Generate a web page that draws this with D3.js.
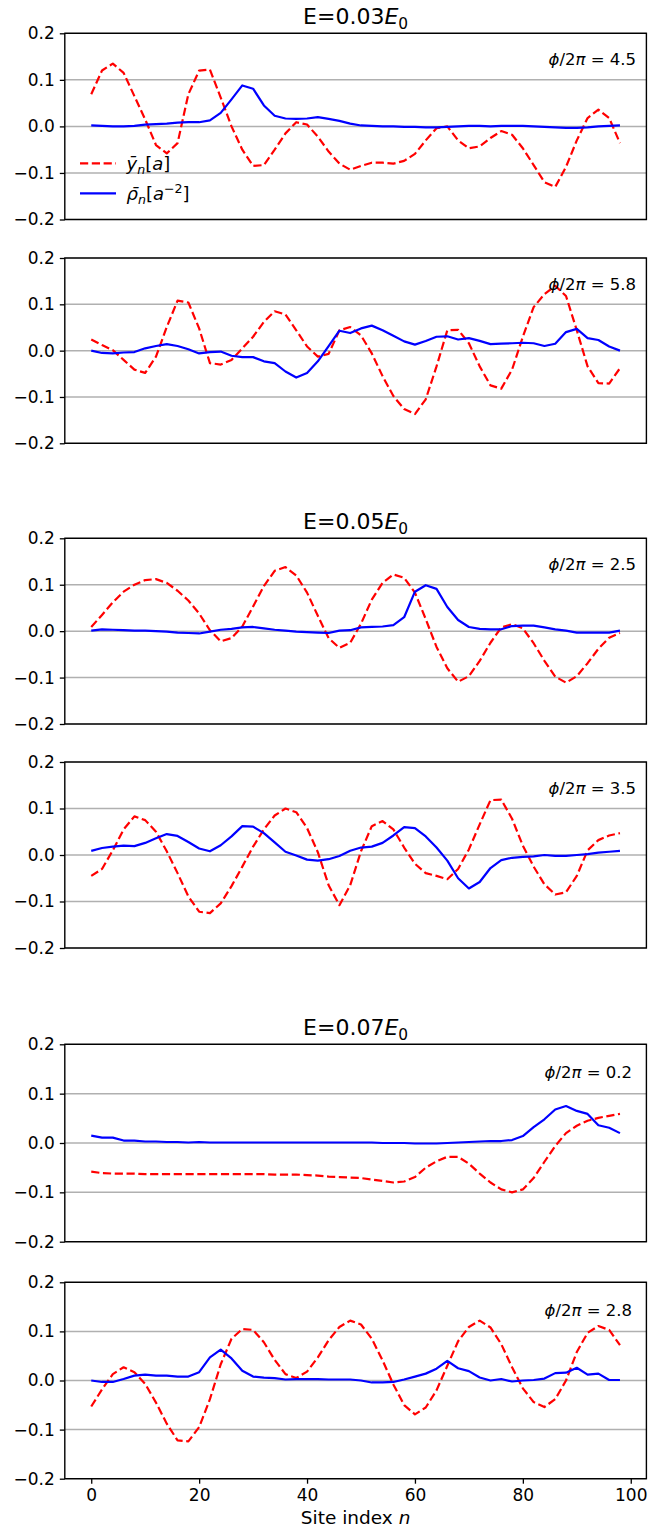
<!DOCTYPE html>
<html>
<head>
<meta charset="utf-8">
<script src="https://cdn.jsdelivr.net/npm/d3@7"></script>
<style>
  html, body { margin: 0; padding: 0; background: #fff; }
  svg { display: block; font-family: "DejaVu Sans", sans-serif; }
</style>
</head>
<body>
<svg id="chart" width="648" height="1533"></svg>
<script>
// Site indices along the chain (every second site is sampled)
const sites = d3.range(0, 99, 2);

// Tick values
const yTicks = [-0.2, -0.1, 0.0, 0.1, 0.2];
const xTicks = [0, 20, 40, 60, 80, 100];

// E = 0.03 E0, phi/2pi = 4.5
const yE03a = [0.069, 0.12, 0.135, 0.115, 0.065, 0.015, -0.04, -0.058, -0.036, 0.069,
  0.12, 0.122, 0.062, 0.0, -0.05, -0.085, -0.083, -0.05, -0.015, 0.009,
  0.004, -0.022, -0.054, -0.08, -0.093, -0.085, -0.078, -0.078, -0.08, -0.074,
  -0.059, -0.03, -0.004, 0.0, -0.03, -0.047, -0.043, -0.025, -0.01, -0.018,
  -0.047, -0.083, -0.12, -0.13, -0.087, -0.03, 0.018, 0.036, 0.018, -0.036];
const rhoE03a = [0.002, 0.001, 0.0, 0.0, 0.001, 0.004, 0.005, 0.006, 0.008, 0.009,
  0.009, 0.013, 0.029, 0.058, 0.088, 0.081, 0.045, 0.023, 0.017, 0.016,
  0.017, 0.02, 0.016, 0.012, 0.006, 0.002, 0.001, 0.0, 0.0, -0.001,
  -0.001, -0.002, -0.002, -0.001, 0.0, 0.001, 0.001, 0.0, 0.001, 0.001,
  0.001, 0.0, -0.001, -0.002, -0.003, -0.003, -0.002, 0.0, 0.001, 0.002];

// E = 0.03 E0, phi/2pi = 5.8
const yE03b = [0.024, 0.012, 0.001, -0.02, -0.041, -0.048, -0.013, 0.051, 0.108, 0.104,
  0.048, -0.027, -0.03, -0.02, 0.005, 0.03, 0.062, 0.085, 0.078, 0.044,
  0.009, -0.013, -0.007, 0.044, 0.051, 0.033, -0.006, -0.055, -0.098, -0.126,
  -0.137, -0.105, -0.034, 0.044, 0.045, 0.016, -0.034, -0.075, -0.082, -0.041,
  0.03, 0.094, 0.122, 0.14, 0.118, 0.044, -0.034, -0.07, -0.071, -0.038];
const rhoE03b = [0.0, -0.005, -0.006, -0.004, -0.003, 0.005, 0.01, 0.014, 0.01, 0.003,
  -0.006, -0.003, -0.002, -0.011, -0.014, -0.014, -0.023, -0.027, -0.045, -0.058,
  -0.048, -0.023, 0.01, 0.043, 0.038, 0.048, 0.054, 0.044, 0.032, 0.02,
  0.013, 0.021, 0.03, 0.031, 0.024, 0.027, 0.021, 0.014, 0.015, 0.016,
  0.017, 0.016, 0.01, 0.015, 0.04, 0.047, 0.027, 0.023, 0.009, 0.0];

// E = 0.05 E0, phi/2pi = 2.5
const yE05a = [0.009, 0.035, 0.062, 0.085, 0.1, 0.11, 0.112, 0.104, 0.087, 0.066,
  0.038, 0.002, -0.022, -0.015, 0.01, 0.053, 0.097, 0.13, 0.138, 0.12,
  0.083, 0.033, -0.015, -0.036, -0.025, 0.016, 0.068, 0.104, 0.122, 0.115,
  0.083, 0.026, -0.034, -0.08, -0.109, -0.097, -0.064, -0.025, 0.008, 0.015,
  0.006, -0.026, -0.064, -0.098, -0.111, -0.097, -0.069, -0.038, -0.014, -0.004];
const rhoE05a = [0.001, 0.004, 0.003, 0.002, 0.001, 0.001, 0.0, -0.001, -0.003, -0.004,
  -0.005, -0.001, 0.003, 0.005, 0.008, 0.009, 0.006, 0.003, 0.001, -0.001,
  -0.002, -0.003, -0.004, 0.001, 0.002, 0.008, 0.009, 0.01, 0.013, 0.03,
  0.085, 0.099, 0.091, 0.052, 0.024, 0.009, 0.005, 0.004, 0.004, 0.011,
  0.012, 0.012, 0.008, 0.004, 0.001, -0.003, -0.003, -0.003, -0.003, 0.001];

// E = 0.05 E0, phi/2pi = 3.5
const yE05b = [-0.045, -0.03, 0.01, 0.055, 0.083, 0.075, 0.05, 0.008, -0.039, -0.089,
  -0.122, -0.125, -0.104, -0.067, -0.025, 0.018, 0.055, 0.085, 0.1, 0.092,
  0.058, 0.006, -0.065, -0.108, -0.065, 0.008, 0.062, 0.073, 0.055, 0.016,
  -0.019, -0.039, -0.045, -0.052, -0.03, 0.012, 0.066, 0.118, 0.119, 0.078,
  0.02, -0.025, -0.063, -0.085, -0.08, -0.045, 0.01, 0.032, 0.042, 0.047];
const rhoE05b = [0.009, 0.015, 0.018, 0.02, 0.019, 0.026, 0.036, 0.045, 0.041, 0.028,
  0.014, 0.008, 0.021, 0.04, 0.062, 0.061, 0.047, 0.027, 0.007, -0.001,
  -0.01, -0.012, -0.009, -0.002, 0.009, 0.016, 0.018, 0.026, 0.042, 0.06,
  0.058, 0.04, 0.016, -0.012, -0.05, -0.072, -0.058, -0.028, -0.011, -0.006,
  -0.004, -0.003, 0.0, -0.002, -0.002, 0.0, 0.002, 0.005, 0.007, 0.009];

// E = 0.07 E0, phi/2pi = 0.2
const yE07a = [-0.058, -0.061, -0.062, -0.062, -0.062, -0.063, -0.063, -0.063, -0.063, -0.063,
  -0.063, -0.063, -0.063, -0.063, -0.063, -0.063, -0.063, -0.064, -0.064, -0.064,
  -0.065, -0.066, -0.068, -0.069, -0.07, -0.071, -0.074, -0.077, -0.08, -0.078,
  -0.069, -0.05, -0.037, -0.028, -0.028, -0.042, -0.062, -0.08, -0.094, -0.1,
  -0.094, -0.071, -0.038, -0.006, 0.02, 0.035, 0.045, 0.051, 0.055, 0.059];
const rhoE07a = [0.015, 0.011, 0.011, 0.005, 0.005, 0.003, 0.003, 0.002, 0.002, 0.001,
  0.002, 0.001, 0.001, 0.001, 0.001, 0.001, 0.001, 0.001, 0.001, 0.001,
  0.001, 0.001, 0.001, 0.001, 0.001, 0.001, 0.001, 0.0, 0.0, 0.0,
  -0.001, -0.001, -0.001, 0.0, 0.001, 0.002, 0.003, 0.004, 0.004, 0.006,
  0.014, 0.032, 0.048, 0.068, 0.075, 0.065, 0.059, 0.036, 0.031, 0.02];

// E = 0.07 E0, phi/2pi = 2.8
const yE07b = [-0.053, -0.018, 0.013, 0.027, 0.017, -0.007, -0.045, -0.088, -0.122, -0.124,
  -0.095, -0.038, 0.033, 0.085, 0.105, 0.103, 0.078, 0.042, 0.013, 0.005,
  0.018, 0.047, 0.082, 0.109, 0.122, 0.114, 0.085, 0.041, -0.008, -0.05,
  -0.069, -0.055, -0.02, 0.03, 0.08, 0.109, 0.122, 0.108, 0.074, 0.027,
  -0.016, -0.044, -0.054, -0.038, 0.0, 0.058, 0.097, 0.111, 0.103, 0.072];
const rhoE07b = [0.0, -0.003, -0.003, 0.003, 0.01, 0.012, 0.01, 0.01, 0.008, 0.008,
  0.017, 0.047, 0.063, 0.045, 0.02, 0.008, 0.006, 0.005, 0.002, 0.003,
  0.003, 0.003, 0.002, 0.002, 0.002, 0.0, -0.004, -0.004, -0.003, 0.002,
  0.008, 0.014, 0.024, 0.04, 0.025, 0.019, 0.006, 0.0, 0.003, -0.002,
  0.0, 0.001, 0.004, 0.015, 0.016, 0.026, 0.012, 0.014, 0.001, 0.001];

// Field strengths (titles) and flux values (annotations)
const fields = ["0.03", "0.05", "0.07"];
const fluxes = ["4.5", "5.8", "2.5", "3.5", "0.2", "2.8"];
const ySeries = [yE03a, yE03b, yE05a, yE05b, yE07a, yE07b];
const rhoSeries = [rhoE03a, rhoE03b, rhoE05a, rhoE05b, rhoE07a, rhoE07b];

// ---- layout ----
const L = 64.8, R = 646.4;
const panelBoxes = [
  [33.3, 219.5], [258, 443.3],
  [538.3, 724], [762, 948],
  [1044.3, 1241.7], [1282.3, 1478.7]
];
const fluxRight = [636, 636, 636, 636, 632, 632];

const RED = "#ff0000", BLUE = "#0000ff", GRID = "#b0b0b0";
const TICK_FS = 17;

const svg = d3.select("#chart");
const x = d3.scaleLinear().domain([-4.9, 102.9]).range([L, R]);

// mathtext-like rich text: segments {t, i (italic), sub, sup}
function richText(sel, segs, fs) {
  let shift = 0;
  segs.forEach(s => {
    let target = 0, size = fs;
    if (s.sub) { target = 0.22 * fs; size = 0.7 * fs; }
    if (s.sup) { target = -0.38 * fs; size = 0.7 * fs; }
    sel.append("tspan")
      .attr("dy", (target - shift).toFixed(2))
      .attr("font-size", size)
      .attr("font-style", s.i ? "italic" : "normal")
      .text(s.t);
    shift = target;
  });
}

const fmt = d3.format(".1f");

panelBoxes.forEach(([top, bottom], k) => {
  const y = d3.scaleLinear().domain([-0.2, 0.2]).range([bottom, top]);
  const g = svg.append("g");

  // horizontal grid
  g.selectAll("line.grid").data(yTicks).join("line")
    .attr("x1", L).attr("x2", R)
    .attr("y1", d => y(d)).attr("y2", d => y(d))
    .attr("stroke", GRID).attr("stroke-width", 1.5);

  // y axis
  const ya = g.append("g").attr("transform", `translate(${L},0)`)
    .call(d3.axisLeft(y).tickValues(yTicks).tickFormat(fmt).tickSize(5).tickPadding(5));
  ya.select(".domain").remove();
  ya.selectAll(".tick line").attr("stroke", "#000").attr("stroke-width", 1.3);
  ya.selectAll(".tick text").attr("font-size", TICK_FS)
    .attr("font-family", "DejaVu Sans").attr("fill", "#000");

  // displacement and density lines
  const line = d3.line().x((d, i) => x(sites[i])).y(d => y(d));
  g.append("path").datum(ySeries[k]).attr("d", line)
    .attr("fill", "none").attr("stroke", RED).attr("stroke-width", 2.2)
    .attr("stroke-dasharray", "8.2,3.6").attr("stroke-linejoin", "round");
  g.append("path").datum(rhoSeries[k]).attr("d", line)
    .attr("fill", "none").attr("stroke", BLUE).attr("stroke-width", 2.2)
    .attr("stroke-linejoin", "round").attr("stroke-linecap", "butt");

  // frame
  g.append("rect").attr("x", L).attr("y", top)
    .attr("width", R - L).attr("height", bottom - top)
    .attr("fill", "none").attr("stroke", "#000").attr("stroke-width", 1.4);

  // flux annotation
  const ft = g.append("text")
    .attr("x", fluxRight[k]).attr("y", top + 0.17 * (bottom - top))
    .attr("text-anchor", "end").attr("fill", "#000");
  richText(ft, [{t: "\u03d5", i: true}, {t: "/2"}, {t: "\u03c0", i: true},
    {t: " = " + fluxes[k]}], 16.5);

  // title above the first panel of each field
  if (k % 2 === 0) {
    const tt = g.append("text")
      .attr("x", (L + R) / 2).attr("y", top - 9)
      .attr("text-anchor", "middle").attr("fill", "#000");
    richText(tt, [{t: "E=" + fields[k / 2]}, {t: "E", i: true}, {t: "0", sub: true}], 22);
  }

  // x axis on the last panel
  if (k === panelBoxes.length - 1) {
    const xa = g.append("g").attr("transform", `translate(0,${bottom})`)
      .call(d3.axisBottom(x).tickValues(xTicks).tickFormat(d3.format("d")).tickSize(5).tickPadding(5));
    xa.select(".domain").remove();
    xa.selectAll(".tick line").attr("stroke", "#000").attr("stroke-width", 1.3);
    xa.selectAll(".tick text").attr("font-size", TICK_FS)
      .attr("font-family", "DejaVu Sans").attr("fill", "#000");
    const xl = g.append("text").attr("x", (L + R) / 2).attr("y", bottom + 45)
      .attr("text-anchor", "middle").attr("fill", "#000");
    richText(xl, [{t: "Site index "}, {t: "n", i: true}], 18.5);
  }

  // legend in the first panel
  if (k === 0) {
    const lg = g.append("g");
    const entries = [
      {color: RED, dash: "8.2,3.6", yy: 163.3,
       segs: [{t: "\u0233", i: true}, {t: "n", i: true, sub: true}, {t: "["}, {t: "a", i: true}, {t: "]"}]},
      {color: BLUE, dash: null, yy: 193.3,
       segs: [{t: "\u03c1\u0304", i: true}, {t: "n", i: true, sub: true}, {t: "["}, {t: "a", i: true},
              {t: "\u22122", sup: true}, {t: "]"}]}
    ];
    entries.forEach(e => {
      lg.append("line").attr("x1", 80).attr("x2", 116).attr("y1", e.yy).attr("y2", e.yy)
        .attr("stroke", e.color).attr("stroke-width", 2.2)
        .attr("stroke-dasharray", e.dash);
      const t = lg.append("text").attr("x", 126.5).attr("y", e.yy + 6.5).attr("fill", "#000");
      richText(t, e.segs, 18);
    });
  }
});
</script>
</body>
</html>
